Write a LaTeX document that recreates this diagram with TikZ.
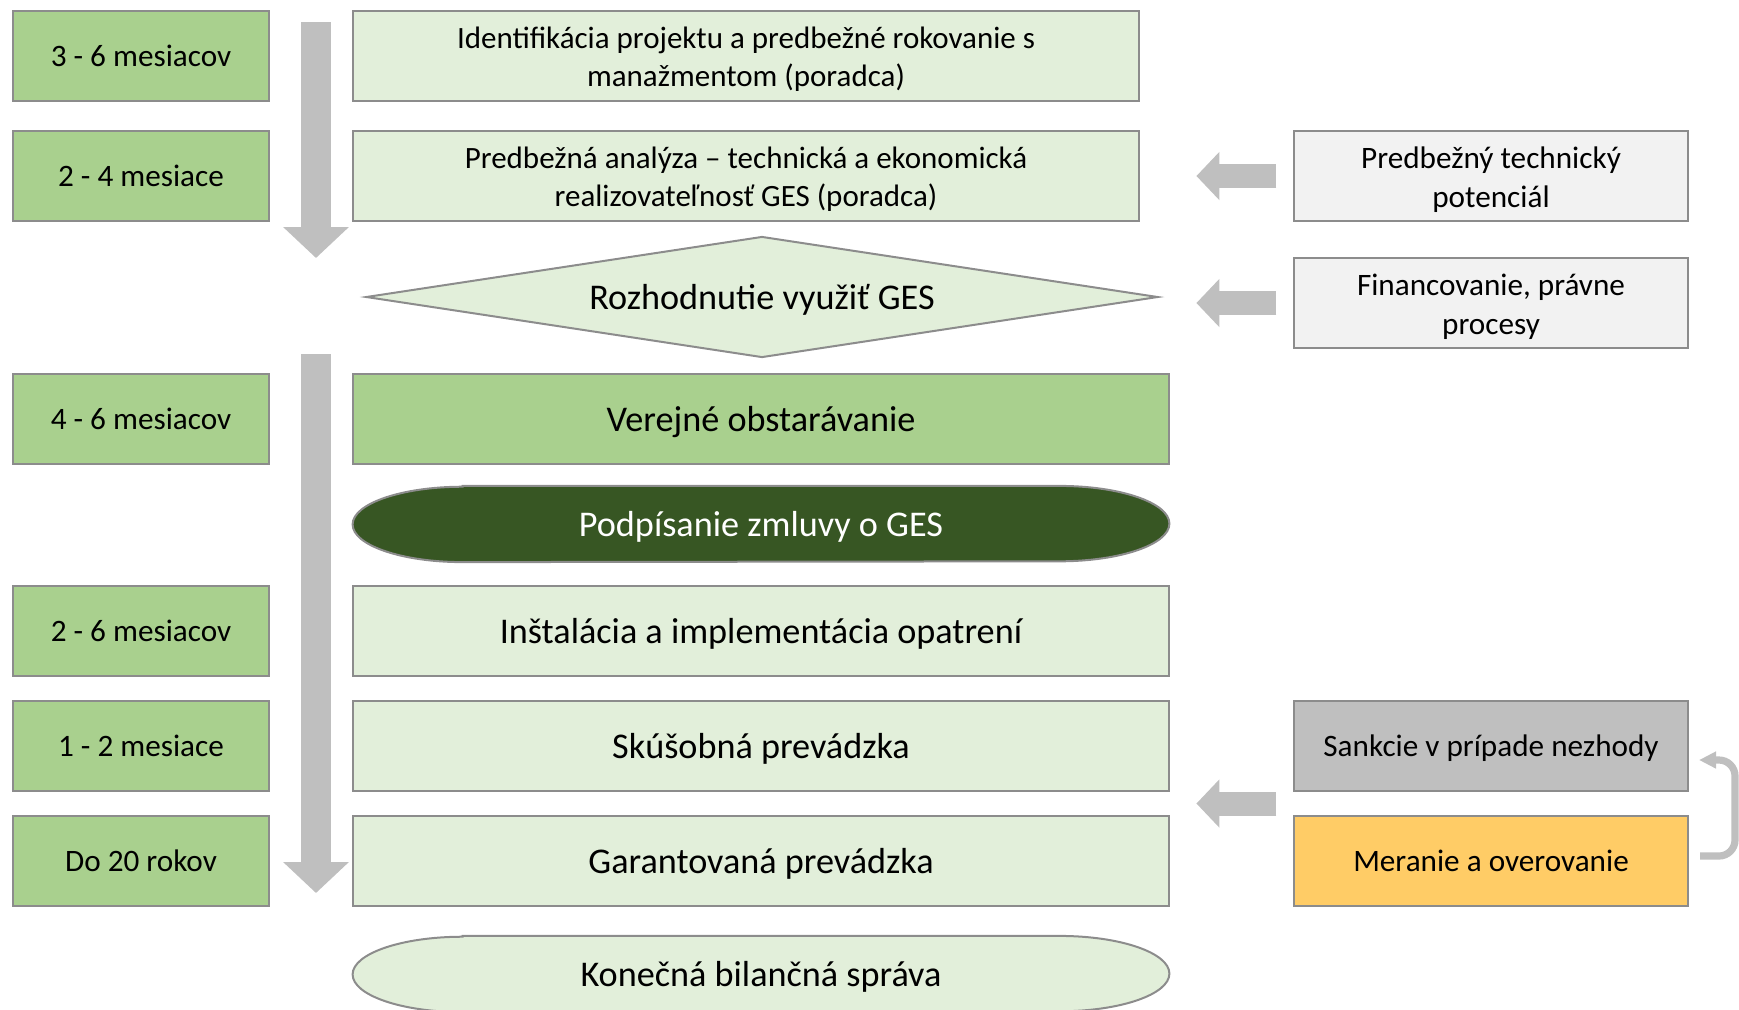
\documentclass[tikz,border=0pt]{standalone}
\usepackage{fontspec}
\setmainfont{Carlito}
\usetikzlibrary{shapes.geometric,arrows.meta,positioning,calc,backgrounds}
\definecolor{boxline}{HTML}{8C8C8C}
\definecolor{lightgreen}{HTML}{E2EFDA}
\definecolor{midgreen}{HTML}{A9D08E}
\definecolor{darkgreen}{HTML}{375623}
\definecolor{paleinput}{HTML}{F2F2F2}
\definecolor{greyinput}{HTML}{BFBFBF}
\definecolor{amber}{HTML}{FFCC66}
\definecolor{arrowgray}{HTML}{BFBFBF}
% two centred lines, first one strutted a little
\newcommand{\twoline}[3]{\begin{tabular}{@{}c@{}}\rule{0pt}{#1}#2\\#3\end{tabular}}

\begin{document}
\begin{tikzpicture}[x=0.5pt,y=-0.5pt,
    box/.style={draw=boxline,line width=1pt,align=center,inner sep=0pt},
    term/.style={box,fill=midgreen,minimum width=128pt,minimum height=45pt,font=\fontsize{15.6}{19}\selectfont},
    prephase/.style={box,fill=lightgreen,minimum width=393pt,minimum height=45pt,font=\fontsize{15.5}{19}\selectfont},
    phase/.style={box,fill=lightgreen,minimum width=408pt,minimum height=45pt,text depth=0pt,font=\fontsize{18.1}{21}\selectfont},
    event/.style={align=center,inner sep=0pt,minimum width=408pt,minimum height=37.7pt,text depth=0pt,font=\fontsize{18.1}{21}\selectfont},
    pill/.style={draw=boxline,line width=1pt},
    input/.style={box,minimum width=197pt,minimum height=45pt,font=\fontsize{15.6}{19.4}\selectfont},
    side/.style={draw=arrowgray,line width=12pt,-{Triangle[width=23.5pt,length=11.5pt]}},
    timeline/.style={draw=arrowgray,line width=15pt,-{Triangle[width=32pt,length=15.5pt]}},
    feedback/.style={draw=arrowgray,line width=3.6pt,rounded corners=8pt,-{Triangle[width=8pt,length=8.5pt]}}]
  \useasboundingbox (0,0) rectangle (1739,1009);

  % durations
  \node[term] (t1) at (141,56) {3 - 6 mesiacov};
  \node[term] (t2) at (141,176) {2 - 4 mesiace};
  \node[term] (t3) at (141,419) {4 - 6 mesiacov};
  \node[term] (t4) at (141,631) {2 - 6 mesiacov};
  \node[term] (t5) at (141,746) {1 - 2 mesiace};
  \node[term] (t6) at (141,861) {Do 20 rokov};

  % process steps
  \node[prephase] (ident) at (746,56) {\twoline{17.2pt}{Identifikácia projektu a predbežné rokovanie s}{manažmentom (poradca)}};
  \node[prephase] (analysis) at (746,176) {\twoline{17.2pt}{Predbežná analýza – technická a ekonomická}{realizovateľnosť GES (poradca)}};
  \node[box,diamond,fill=lightgreen,shape aspect=6.5,minimum width=396pt,minimum height=60.5pt,text depth=0pt,
        font=\fontsize{18.1}{21}\selectfont] (decide) at (762,297) {Rozhodnutie využiť GES};
  \node[phase,fill=midgreen] (procure) at (761,419) {Verejné obstarávanie};
  \node[event,text=white] (sign) at (761,524) {Podpísanie zmluvy o GES};
  \node[phase] (install) at (761,631) {Inštalácia a implementácia opatrení};
  \node[phase] (trial) at (761,746) {Skúšobná prevádzka};
  \node[phase] (operate) at (761,861) {Garantovaná prevádzka};
  \node[event] (report) at (761,974) {Konečná bilančná správa};

  % oval outlines behind the two events
  \begin{scope}[on background layer]
    \foreach \ev/\col in {sign/darkgreen,report/lightgreen}
      \draw[pill,fill=\col] ([xshift=55pt]\ev.north west) -- ([xshift=-55pt]\ev.north east)
        arc[start angle=90,end angle=-90,x radius=55pt,y radius=18.85pt]
        -- ([xshift=55pt]\ev.south west)
        arc[start angle=270,end angle=90,x radius=55pt,y radius=18.85pt] -- cycle;
  \end{scope}

  % inputs
  \node[input,fill=paleinput] (tech) at (1491,176) {\twoline{17.5pt}{Predbežný technický}{potenciál}};
  \node[input,fill=paleinput] (fin) at (1491,303) {\twoline{17.5pt}{Financovanie, právne}{procesy}};
  \node[input,fill=greyinput,text depth=0pt] (sanction) at (1491,746) {Sankcie v prípade nezhody};
  \node[input,fill=amber] (measure) at (1491,861) {Meranie a overovanie};

  % timeline arrows
  \coordinate (up1) at (316,22);
  \coordinate (down1) at (316,258);
  \coordinate (up2) at (316,354);
  \coordinate (down2) at (316,893);
  \draw[timeline] (up1) -- (down1);
  \draw[timeline] (up2) -- (down2);

  % input arrows
  \coordinate (gap) at ($(sanction.south west)!.5!(measure.north west)$);
  \draw[side] ([xshift=-8.3pt]tech.west) -- ++(-40pt,0);
  \draw[side] ([xshift=-8.3pt]fin.west) -- ++(-40pt,0);
  \draw[side] ([xshift=-8.3pt]gap) -- ++(-40pt,0);

  % feedback loop
  \coordinate (turn) at (1735,800);
  \draw[feedback] ([xshift=5.5pt,yshift=2.5pt]measure.east) -| (turn) |- ([xshift=5pt,yshift=-7pt]sanction.east);
\end{tikzpicture}
\end{document}
